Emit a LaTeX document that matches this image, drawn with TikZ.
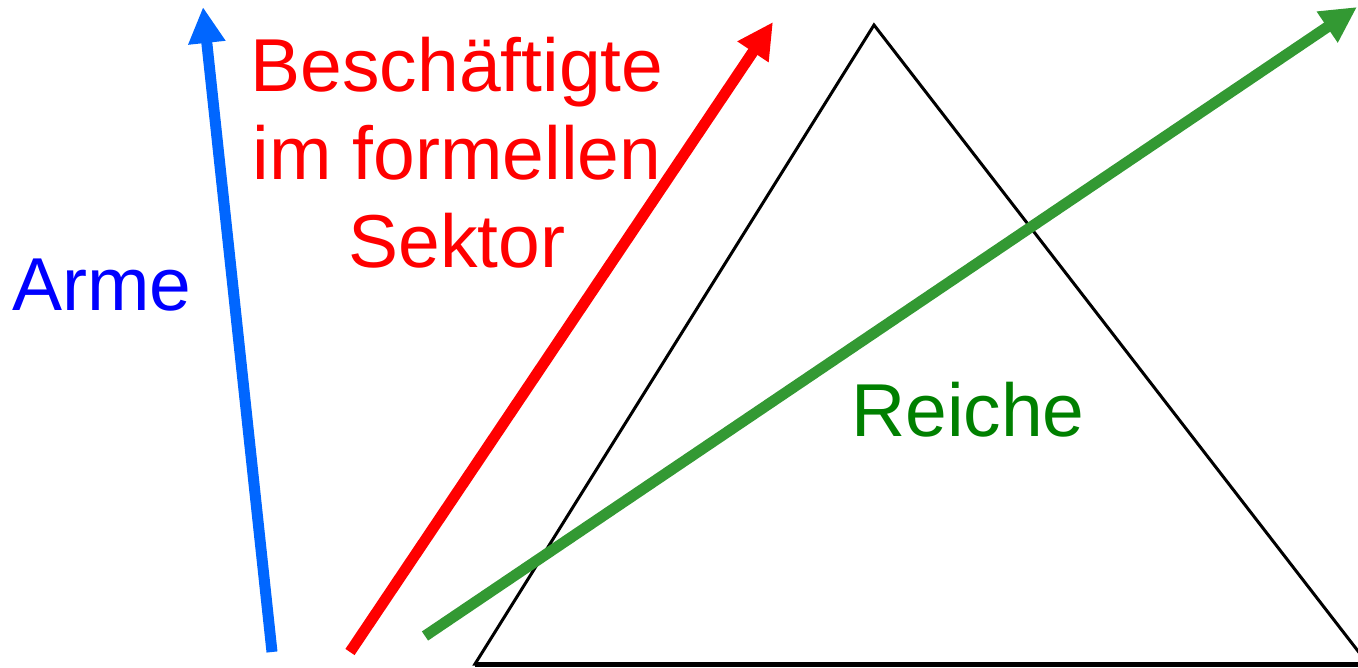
\documentclass[tikz,border=0pt]{standalone}
\usepackage{fontspec}
\setmainfont{Liberation Sans}
\usetikzlibrary{arrows.meta, positioning}

\definecolor{armblue}{RGB}{0,102,255}
\definecolor{richgreen}{RGB}{51,153,51}
\definecolor{labelgreen}{RGB}{0,128,0}

\begin{document}
\begin{tikzpicture}[x=1pt, y=-1pt,
    bigtext/.style={font=\fontsize{75}{88}\selectfont, inner sep=0pt, align=center},
    flow/.style={line width=11pt, -{Triangle[length=36pt, width=35pt]}}
]
\useasboundingbox (0,0) rectangle (1358,667);
\clip (0,0) rectangle (1358,667);

% triangle
\coordinate (top) at (874,25);
\coordinate (left) at (475,664);
\coordinate (right) at (1368,664);
\draw[line width=3pt, line join=miter] (left) -- (top) -- (right) -- cycle;
\draw[line width=5pt] (left) -- (right);

% labels
\node[bigtext, text=blue] (arme) at (102,285) {Arme};
\node[bigtext, text=red] (formell) at (457,153) {Besch\"aftigte\\im formellen\\Sektor};
\node[bigtext, text=labelgreen] (reiche) at (968,410) {Reiche};

% arrows
\coordinate (a0) at (272,652);
\coordinate (a1) at (203,7);
\coordinate (f0) at (350,652);
\coordinate (f1) at (773,22);
\coordinate (r0) at (425,636);
\coordinate (r1) at (1357,7);
\draw[flow, armblue] (a0) -- (a1);
\draw[flow, red] (f0) -- (f1);
\draw[flow, richgreen] (r0) -- (r1);
\end{tikzpicture}
\end{document}
